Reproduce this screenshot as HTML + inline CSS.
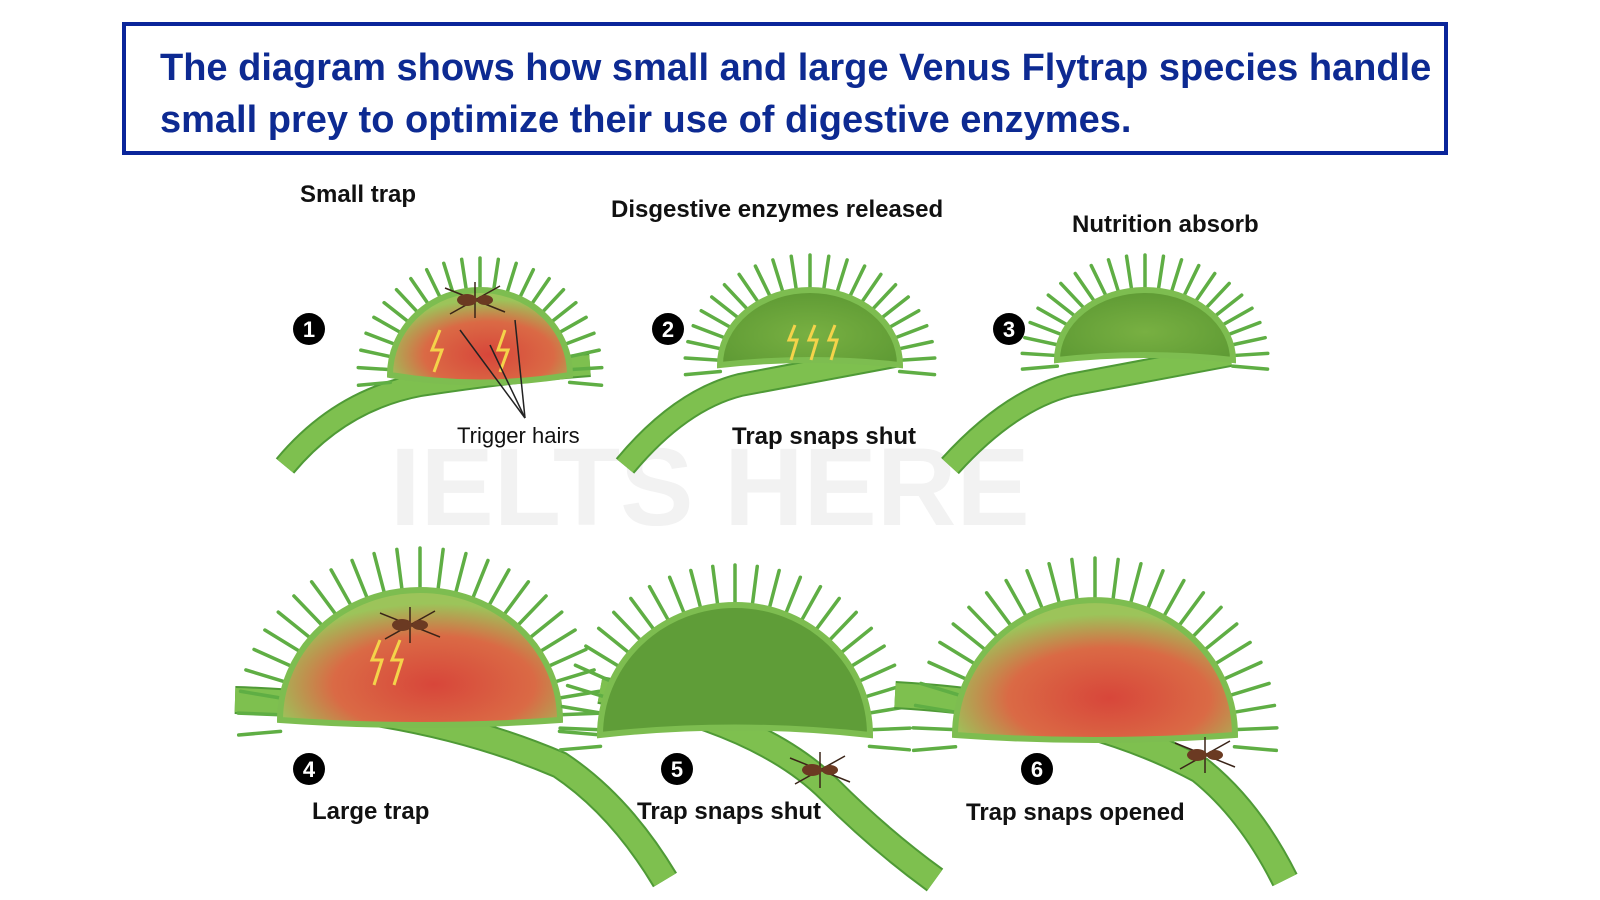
<!DOCTYPE html>
<html><head><meta charset="utf-8"><style>
body{margin:0;width:1600px;height:900px;background:#fff;overflow:hidden;font-family:"Liberation Sans",sans-serif}
.box{position:absolute;left:122px;top:22px;width:1318px;height:125px;border:4px solid #0a259a}
.box div{position:absolute;left:34px;top:16px;font-size:38px;font-weight:bold;color:#0d2a92;line-height:52px;white-space:nowrap}
.l{position:absolute;font-size:24px;font-weight:bold;color:#111;white-space:nowrap}
</style></head><body>
<div class="box"><div>The diagram shows how small and large Venus Flytrap species handle<br>small prey to optimize their use of digestive enzymes.</div></div>
<svg id="s" width="1600" height="900" style="position:absolute;left:0;top:0">
<defs>
<radialGradient id="red" cx="0.55" cy="0.7" r="0.6"><stop offset="0" stop-color="#d8463a"/><stop offset="0.6" stop-color="#da6a45"/><stop offset="1" stop-color="#9cc45a"/></radialGradient>
<radialGradient id="grn" cx="0.5" cy="0.6" r="0.6"><stop offset="0" stop-color="#78b042"/><stop offset="1" stop-color="#5e9a34"/></radialGradient>
</defs>
<text x="390" y="525" font-size="110" font-weight="bold" fill="#f2f2f2" font-family="Liberation Sans">IELTS HERE</text>
<g id="g"></g>
</svg>
<div class="l" style="left:300px;top:181px">Small trap</div>
<div class="l" style="left:611px;top:196px">Disgestive enzymes released</div>
<div class="l" style="left:1072px;top:211px">Nutrition absorb</div>
<div class="l" style="left:457px;top:423px;font-weight:normal;font-size:22px">Trigger hairs</div>
<div class="l" style="left:732px;top:423px">Trap snaps shut</div>
<div class="l" style="left:312px;top:798px">Large trap</div>
<div class="l" style="left:637px;top:798px">Trap snaps shut</div>
<div class="l" style="left:966px;top:799px">Trap snaps opened</div>
<script>
var g=document.getElementById('g'),h='';
function stem(d,w){h+='<path d="'+d+'" stroke="#4f9a36" stroke-width="'+(w+4)+'" fill="none"/><path d="'+d+'" stroke="#7ec04f" stroke-width="'+w+'" fill="none"/>';}
function spikes(cx,cy,rx,ry,a0,a1,n,len){for(var i=0;i<=n;i++){var a=(a0+(a1-a0)*i/n)*Math.PI/180;var x=cx+rx*Math.cos(a),y=cy-ry*Math.sin(a);var x2=cx+(rx+len)*Math.cos(a),y2=cy-(ry+len)*Math.sin(a);h+='<line x1="'+x+'" y1="'+y+'" x2="'+x2+'" y2="'+y2+'" stroke="#5fae44" stroke-width="3.5" stroke-linecap="round"/>';}}
function dome(cx,cy,rx,ry,f,n,len,sag){spikes(cx,cy,rx,ry,-5,185,n,len);h+='<path d="M'+(cx-rx)+','+cy+' A'+rx+','+ry+' 0 0 1 '+(cx+rx)+','+cy+' Q'+cx+','+(cy+sag)+' '+(cx-rx)+','+cy+'Z" fill="'+f+'" stroke="#7dbd50" stroke-width="6"/>';}
function num(x,y,t){h+='<circle cx="'+x+'" cy="'+y+'" r="16" fill="#000"/><text x="'+x+'" y="'+(y+8)+'" text-anchor="middle" font-size="22" font-weight="bold" fill="#fff" font-family="Liberation Sans">'+t+'</text>';}
function ant(x,y){h+='<g stroke="#3a2418" stroke-width="1.5"><line x1="'+(x-30)+'" y1="'+(y-12)+'" x2="'+(x+30)+'" y2="'+(y+12)+'"/><line x1="'+(x-25)+'" y1="'+(y+14)+'" x2="'+(x+25)+'" y2="'+(y-14)+'"/><line x1="'+x+'" y1="'+(y-18)+'" x2="'+x+'" y2="'+(y+18)+'"/></g><ellipse cx="'+(x-8)+'" cy="'+y+'" rx="10" ry="6" fill="#6b3a22"/><ellipse cx="'+(x+10)+'" cy="'+y+'" rx="8" ry="5" fill="#6b3a22"/>';}
stem('M285,466 Q340,400 420,385 Q520,370 590,365',20); dome(480,375,90,85,'url(#red)',22,32,15); ant(475,300);
h+='<path d="M440,330 L432,350 L442,350 L434,372" stroke="#f4d34a" stroke-width="3" fill="none"/><path d="M505,330 L498,350 L508,350 L500,372" stroke="#f4d34a" stroke-width="3" fill="none"/>';
h+='<g stroke="#222" stroke-width="1.5"><line x1="525" y1="418" x2="460" y2="330"/><line x1="525" y1="418" x2="490" y2="345"/><line x1="525" y1="418" x2="515" y2="320"/></g>';
stem('M625,466 Q680,400 740,385 Q820,370 900,355',20); dome(810,365,90,75,'url(#grn)',22,35,-10);
h+='<path d="M795,325 l-6,15 h8 l-6,20 M815,325 l-6,15 h8 l-6,20 M835,325 l-6,15 h8 l-6,20" stroke="#f4d34a" stroke-width="3" fill="none"/>';
stem('M950,466 Q1010,400 1070,385 Q1150,370 1230,355',20); dome(1145,360,88,70,'url(#grn)',22,35,-10);
stem('M235,700 Q420,705 560,765 Q620,805 665,880',24); dome(420,720,140,130,'url(#red)',26,42,10); ant(410,625);
h+='<path d="M380,640 l-8,20 h10 l-8,25 M400,640 l-8,20 h10 l-8,25" stroke="#f4d34a" stroke-width="3" fill="none"/>';
stem('M600,690 Q760,720 830,790 Q880,840 935,880',24); dome(735,735,135,130,'#5f9d38',26,40,-15); ant(820,770);
stem('M895,695 Q1080,705 1200,770 Q1250,810 1285,880',24); dome(1095,735,140,135,'url(#red)',26,42,10); ant(1205,755);
num(309,329,'1');num(668,329,'2');num(1009,329,'3');num(309,769,'4');num(677,769,'5');num(1037,769,'6');
g.innerHTML=h;
</script>
</body></html>
